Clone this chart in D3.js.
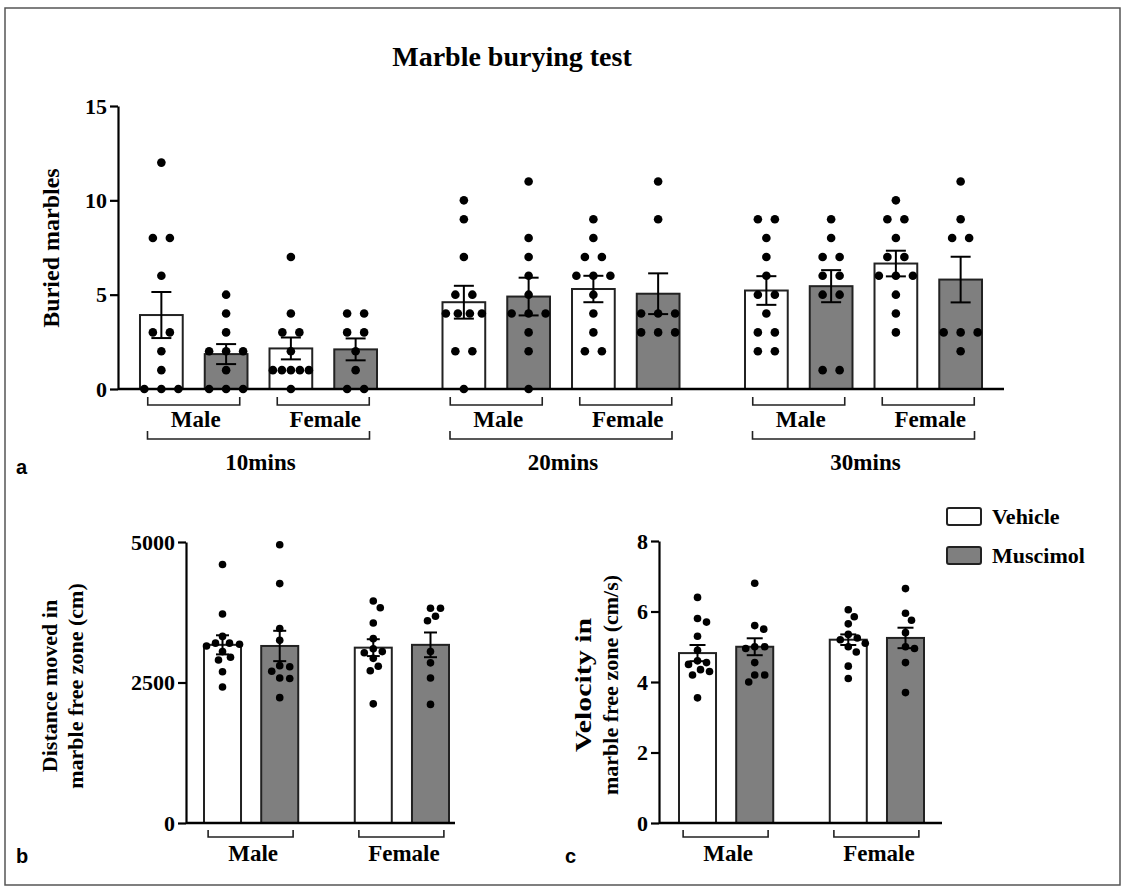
<!DOCTYPE html>
<html><head><meta charset="utf-8">
<script src="https://cdn.jsdelivr.net/npm/d3@7"></script>
<style>
body{margin:0;background:#fff}
svg text{font-family:"Liberation Serif","Times New Roman",serif;font-weight:bold;fill:#000}
</style>
</head><body>
<svg id="chart" width="1126" height="890"></svg>
<script>
// ---------------- DATA ----------------
const times = ["10mins", "20mins", "30mins"];
const sexes = ["Male", "Female"];
const treatments = ["Vehicle", "Muscimol"];
const buriedTicks = [0, 5, 10, 15];
const distanceTicks = [0, 2500, 5000];
const velocityTicks = [0, 2, 4, 6, 8];

// order in each list: Male-Vehicle, Male-Muscimol, Female-Vehicle, Female-Muscimol
const buried10 = [[12,8,8,6,3,3,2,1,0,0,0],[5,4,3,2,2,2,1,0,0,0],[7,4,3,3,2,1,1,1,1,1,0],[4,4,3,3,2,1,0,0]];
const buried20 = [[10,9,7,5,5,4,4,4,4,2,2,0],[11,8,7,6,5,4,4,4,3,2,0],[9,8,7,7,6,6,6,5,4,3,2,2],[11,9,4,4,4,3,3,3]];
const buried30 = [[9,9,8,7,6,5,5,4,3,3,2,2],[9,8,7,7,6,6,5,5,1,1],[10,9,9,8,7,7,6,6,6,5,4,3],[11,9,8,8,3,3,3,2]];
const buriedMean10 = [3.92, 1.85, 2.15, 2.1];
const buriedSem10  = [1.22, 0.53, 0.58, 0.58];
const buriedMean20 = [4.6, 4.9, 5.3, 5.05];
const buriedSem20  = [0.87, 1.0, 0.7, 1.08];
const buriedMean30 = [5.22, 5.45, 6.65, 5.8];
const buriedSem30  = [0.76, 0.85, 0.68, 1.21];

const distancePoints = [[4600,3720,3320,3200,3200,3180,3150,3050,2950,2900,2690,2420],
                        [4950,4260,3460,3250,2800,2780,2700,2580,2570,2230],
                        [3950,3830,3560,3280,3100,3050,3030,2930,2790,2710,2120],
                        [3820,3820,3680,3600,3050,2850,2580,2110]];
const distanceMean = [3170, 3150, 3120, 3170];
const distanceSem  = [170, 270, 150, 220];

const velocityPoints = [[6.4,5.8,5.7,5.3,4.9,4.6,4.55,4.5,4.35,4.3,4.2,3.55],
                        [6.8,5.6,5.5,5.0,5.0,4.95,4.55,4.2,4.2,4.0],
                        [6.05,5.85,5.65,5.35,5.25,5.2,5.1,5.0,4.85,4.45,4.1],
                        [6.65,5.95,5.75,5.4,5.0,4.95,4.55,3.7]];
const velocityMean = [4.82, 5.0, 5.2, 5.25];
const velocitySem  = [0.23, 0.24, 0.15, 0.29];

// ---------------- DRAWING ----------------
const svg = d3.select("#chart");
const fills = {Vehicle: "#ffffff", Muscimol: "#7f7f7f"};
const slots = sexes.flatMap(s => treatments.map(t => ({sex: s, trt: t})));

svg.append("rect").attr("x", 5).attr("y", 8).attr("width", 1115).attr("height", 877)
  .attr("fill", "none").attr("stroke", "#555").attr("stroke-width", 1.5);

svg.append("text").attr("x", 512).attr("y", 66).attr("text-anchor", "middle")
  .style("font-size", "28px").text("Marble burying test");

function styleAxis(g, fs) {
  g.attr("font-family", null).attr("font-size", null);
  g.select(".domain").attr("stroke", "#000").attr("stroke-width", 2.2);
  g.selectAll(".tick line").attr("stroke", "#000").attr("stroke-width", 2.2);
  g.selectAll(".tick text").style("font-size", fs + "px");
}

function drawBar(g, x, w, mean, sem, y, fill, capW) {
  g.append("rect").attr("x", x).attr("y", y(mean)).attr("width", w)
    .attr("height", y(0) - y(mean)).attr("fill", fill)
    .attr("stroke", "#222").attr("stroke-width", 2);
  const cx = x + w / 2;
  g.append("line").attr("x1", cx).attr("x2", cx).attr("y1", y(mean - sem)).attr("y2", y(mean + sem))
    .attr("stroke", "#000").attr("stroke-width", 2);
  [mean - sem, mean + sem].forEach(v => {
    g.append("line").attr("x1", cx - capW / 2).attr("x2", cx + capW / 2)
      .attr("y1", y(v)).attr("y2", y(v)).attr("stroke", "#000").attr("stroke-width", 2);
  });
}

// symmetric spread of identical values (panel a)
function spreadDots(g, vals, cx, y, r, maxStep, maxWidth) {
  const groups = d3.groups(vals, v => v);
  groups.forEach(([v, arr]) => {
    const n = arr.length;
    const step = n > 1 ? Math.min(maxStep, maxWidth / (n - 1)) : 0;
    arr.forEach((_, i) => {
      g.append("circle").attr("cx", cx + (i - (n - 1) / 2) * step).attr("cy", y(v))
        .attr("r", r).attr("fill", "#000");
    });
  });
}

// beeswarm for continuous values (panels b, c)
function swarmDots(g, vals, cx, y, r) {
  const placed = [];
  vals.forEach(v => {
    const py = y(v);
    let k = 0, off = 0;
    while (true) {
      off = (k % 2 === 1 ? 1 : -1) * Math.ceil(k / 2);
      if (placed.every(p => Math.hypot(p.dx - off, p.py - py) >= 2 * r + 1.5)) break;
      k++;
    }
    placed.push({dx: off, py});
    g.append("circle").attr("cx", cx + off).attr("cy", py).attr("r", r).attr("fill", "#000");
  });
}

function bracket(g, x1, x2, yTop, yBot) {
  g.append("path").attr("d", `M${x1},${yTop}V${yBot}H${x2}V${yTop}`)
    .attr("fill", "none").attr("stroke", "#222").attr("stroke-width", 1.6);
}

// ---------- Panel a ----------
const ga = svg.append("g");
const ya = d3.scaleLinear().domain([0, 15]).range([389, 106]);
const xg = d3.scaleBand().domain(times).range([118, 1004]).paddingInner(0.2165).paddingOuter(0.0727);
const xs = d3.scaleBand().domain(d3.range(4)).range([0, xg.bandwidth()]).paddingInner(0.34);
const buriedData = [buried10, buried20, buried30];
const buriedMeans = [buriedMean10, buriedMean20, buriedMean30];
const buriedSems = [buriedSem10, buriedSem20, buriedSem30];

times.forEach((t, ti) => {
  slots.forEach((s, si) => {
    const x = xg(t) + xs(si);
    drawBar(ga, x, xs.bandwidth(), buriedMeans[ti][si], buriedSems[ti][si], ya, fills[s.trt], 20);
  });
  slots.forEach((s, si) => {
    const cx = xg(t) + xs(si) + xs.bandwidth() / 2;
    spreadDots(ga, buriedData[ti][si], cx, ya, 4.3, 17, 36);
  });
  sexes.forEach((sex, k) => {
    const c = xg(t) + (xs(2 * k) + xs(2 * k + 1) + xs.bandwidth()) / 2;
    bracket(ga, c - 46, c + 46, 397, 405);
    ga.append("text").attr("x", c + 2).attr("y", 427).attr("text-anchor", "middle")
      .style("font-size", "23px").text(sex);
  });
  const gc = xg(t) + xg.bandwidth() / 2;
  bracket(ga, gc - 111, gc + 111, 431, 439);
  ga.append("text").attr("x", gc + 2).attr("y", 470).attr("text-anchor", "middle")
    .style("font-size", "23px").text(t);
});
ga.append("line").attr("x1", 118).attr("x2", 1004).attr("y1", ya(0)).attr("y2", ya(0))
  .attr("stroke", "#000").attr("stroke-width", 2.5);
const axA = ga.append("g").attr("transform", "translate(118,0)")
  .call(d3.axisLeft(ya).tickValues(buriedTicks).tickSize(8).tickSizeOuter(0).tickPadding(3));
styleAxis(axA, 22);
ga.append("text").attr("transform", "translate(59,248) rotate(-90)").attr("text-anchor", "middle")
  .style("font-size", "24px").text("Buried marbles");
svg.append("text").attr("x", 16).attr("y", 474)
  .style("font-family", "'Liberation Sans', Arial, sans-serif").style("font-size", "20px").text("a");

// ---------- Panels b and c ----------
function smallPanel(cfg) {
  const g = svg.append("g");
  const y = d3.scaleLinear().domain(cfg.domain).range([823, cfg.top]);
  const xsx = d3.scaleBand().domain(sexes).range(cfg.barRange).paddingInner(0.375);
  const xt = d3.scaleBand().domain(treatments).range([0, xsx.bandwidth()]).paddingInner(0.353);
  slots.forEach((s, si) => {
    drawBar(g, xsx(s.sex) + xt(s.trt), xt.bandwidth(), cfg.means[si], cfg.sems[si], y, fills[s.trt], cfg.cap);
  });
  slots.forEach((s, si) => {
    swarmDots(g, cfg.points[si], xsx(s.sex) + xt(s.trt) + xt.bandwidth() / 2, y, 3.8);
  });
  sexes.forEach(sex => {
    const c = xsx(sex) + xsx.bandwidth() / 2;
    bracket(g, c - 43, c + 42, 830, 837);
    g.append("text").attr("x", c + 2).attr("y", 861).attr("text-anchor", "middle")
      .style("font-size", "23px").text(sex);
  });
  g.append("line").attr("x1", cfg.axisX).attr("x2", cfg.axisEnd).attr("y1", y(0)).attr("y2", y(0))
    .attr("stroke", "#000").attr("stroke-width", 2.5);
  const ax = g.append("g").attr("transform", `translate(${cfg.axisX},0)`)
    .call(d3.axisLeft(y).tickValues(cfg.ticks).tickFormat(d3.format("d"))
      .tickSize(8).tickSizeOuter(0).tickPadding(3));
  styleAxis(ax, 22);
  cfg.label.forEach((line, i) => {
    g.append("text").attr("transform", `translate(${cfg.labelX[i]},${cfg.labelY}) rotate(-90) scale(${cfg.labelStretch[i]},1)`)
      .attr("text-anchor", "middle").style("font-size", cfg.labelSize[i] + "px").text(line);
  });
  svg.append("text").attr("x", cfg.letterX).attr("y", 863)
    .style("font-family", "'Liberation Sans', Arial, sans-serif").style("font-size", "20px").text(cfg.letter);
}

smallPanel({domain: [0, 5000], top: 542, barRange: [204, 449], axisX: 186, axisEnd: 455,
  ticks: distanceTicks, means: distanceMean, sems: distanceSem, points: distancePoints, cap: 13,
  label: ["Distance moved in", "marble free zone (cm)"], labelX: [57, 83], labelSize: [22, 22], labelStretch: [1, 1],
  labelY: 686, letter: "b", letterX: 16});
smallPanel({domain: [0, 8], top: 541, barRange: [679, 924], axisX: 659, axisEnd: 942,
  ticks: velocityTicks, means: velocityMean, sems: velocitySem, points: velocityPoints, cap: 16,
  label: ["Velocity in", "marble free zone (cm/s)"], labelX: [591, 618], labelSize: [23, 22], labelStretch: [1.3, 1],
  labelY: 685, letter: "c", letterX: 565});

// ---------- Legend ----------
const lg = svg.append("g");
treatments.forEach((t, i) => {
  lg.append("rect").attr("x", 947).attr("y", 508 + i * 39).attr("width", 34).attr("height", 17)
    .attr("rx", 2).attr("fill", fills[t]).attr("stroke", "#222").attr("stroke-width", 2);
  lg.append("text").attr("x", 992).attr("y", 524 + i * 39).style("font-size", "22px").text(t);
});
</script>
</body></html>
